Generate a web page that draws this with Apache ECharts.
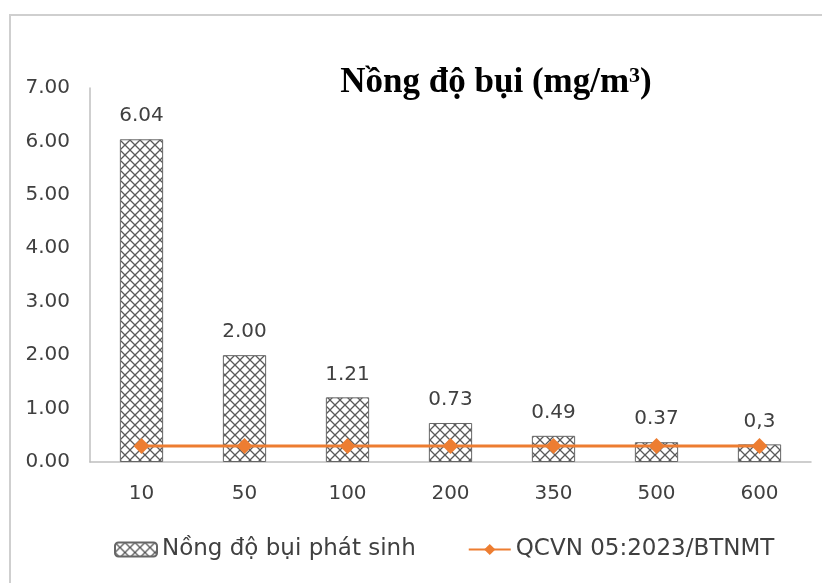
<!DOCTYPE html>
<html><head><meta charset="utf-8">
<script src="https://cdn.jsdelivr.net/npm/echarts@6/dist/echarts.min.js"></script>
<style>html,body{margin:0;padding:0;background:#fff}#c{width:822px;height:583px}</style>
</head><body><div id="c"></div>
<script>
const categories = ['10','50','100','200','350','500','600'];
const dustValues = [6.04, 2.00, 1.21, 0.73, 0.49, 0.37, 0.33];
const dustLabels = ['6.04','2.00','1.21','0.73','0.49','0.37','0,3'];
const limitValues = [0.3, 0.3, 0.3, 0.3, 0.3, 0.3, 0.3];
const yTicks = [0,1,2,3,4,5,6,7];

function hatch(){
  const c = document.createElement('canvas');
  c.width = 10; c.height = 10;
  const g = c.getContext('2d');
  g.fillStyle = '#fff'; g.fillRect(0,0,10,10);
  g.strokeStyle = '#5a5a5a'; g.lineWidth = 1.3;
  g.beginPath();
  g.moveTo(-1,-1); g.lineTo(11,11);
  g.moveTo(11,-1); g.lineTo(-1,11);
  g.stroke();
  return c;
}
const pat = {image: hatch(), repeat: 'repeat'};
const F = 'DejaVu Sans';

const chart = echarts.init(document.getElementById('c'));
chart.setOption({
  animation:false,
  backgroundColor:'#fff',
  title:{text:'{a|Nồng độ bụi (mg/m}{s|3}{a|)}', left:491, top:60, textAlign:'center',
    textStyle:{rich:{
      a:{fontFamily:'Liberation Serif', fontWeight:'bold', fontSize:35, color:'#000'},
      s:{fontFamily:'Liberation Serif', fontWeight:'bold', fontSize:22, color:'#000', verticalAlign:'top', padding:[0,0,14,0]}
    }}},
  graphic:[{type:'rect', shape:{x:10,y:15,width:900,height:700},
    style:{fill:'none', stroke:'#cfcfcf', lineWidth:2}, silent:true}],
  grid:{left:90, right:11, top:88, bottom:121, containLabel:false},
  legend:{bottom:17, left:109, itemGap:52, itemWidth:42, itemHeight:14,
    textStyle:{fontFamily:F, fontSize:23, color:'#404040'},
    data:[{name:'Nồng độ bụi phát sinh'},{name:'QCVN 05:2023/BTNMT'}]},
  xAxis:{type:'category', data:categories,
    axisLine:{lineStyle:{color:'#bfbfbf', width:1.5}}, axisTick:{show:false},
    axisLabel:{fontFamily:F, fontSize:20, color:'#404040', margin:22}},
  yAxis:{type:'value', min:yTicks[0], max:yTicks[yTicks.length-1], interval:1,
    axisLine:{show:true, lineStyle:{color:'#bfbfbf', width:1.5}}, axisTick:{show:false},
    splitLine:{show:false},
    axisLabel:{fontFamily:F, fontSize:20, color:'#404040', margin:20,
      formatter:v=>v.toFixed(2)}},
  series:[
    {name:'Nồng độ bụi phát sinh', type:'bar', data:dustValues, barWidth:'42%',
      itemStyle:{color:pat, borderColor:'#666', borderWidth:1},
      label:{show:true, position:'top', distance:13, fontFamily:F, fontSize:20, color:'#404040',
        formatter:p=>dustLabels[p.dataIndex]}},
    {name:'QCVN 05:2023/BTNMT', type:'line', data:limitValues, symbol:'diamond', symbolSize:16,
      lineStyle:{color:'#ED7D31', width:3}, itemStyle:{color:'#ED7D31'}}
  ]
});
</script></body></html>
